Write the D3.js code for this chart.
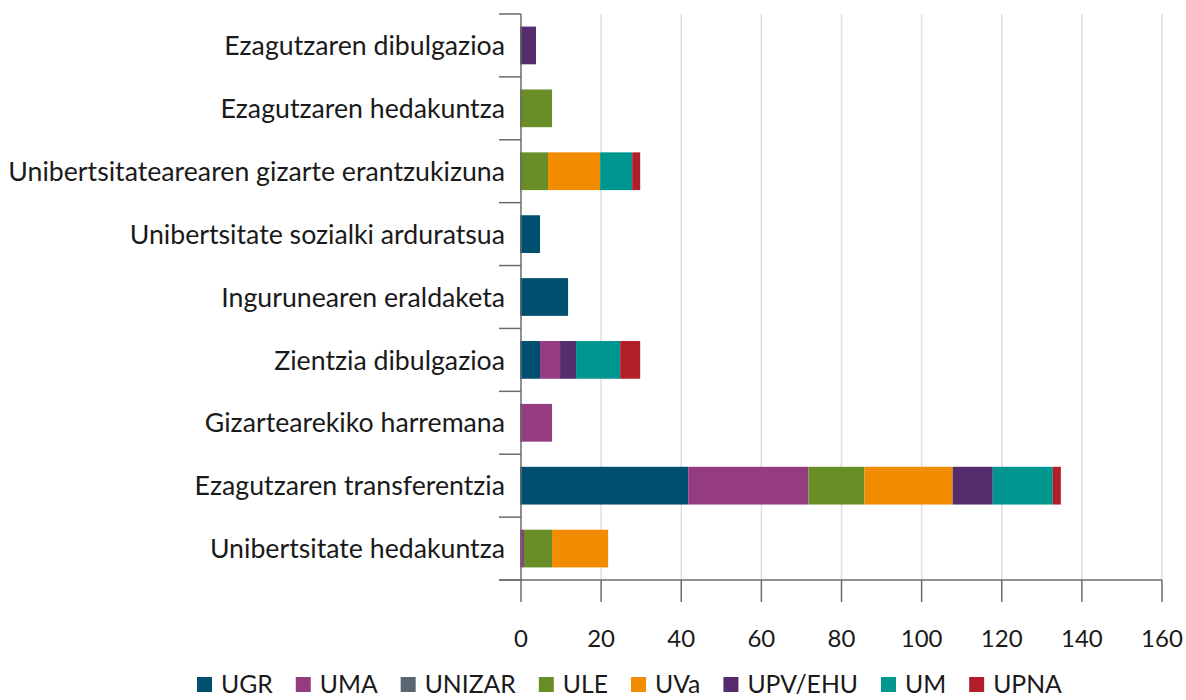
<!DOCTYPE html>
<html>
<head>
<meta charset="utf-8">
<script src="https://cdn.jsdelivr.net/npm/d3@7"></script>
<style>
  body { margin: 0; background: #fff; }
  text { font-family: Lato, "Open Sans", sans-serif; fill: #1a1a1a; }
</style>
</head>
<body>
<svg id="chart" width="1186" height="700"></svg>
<script>
const categories = [
  "Ezagutzaren dibulgazioa",
  "Ezagutzaren hedakuntza",
  "Unibertsitatearearen gizarte erantzukizuna",
  "Unibertsitate sozialki arduratsua",
  "Ingurunearen eraldaketa",
  "Zientzia dibulgazioa",
  "Gizartearekiko harremana",
  "Ezagutzaren transferentzia",
  "Unibertsitate hedakuntza"
];
const seriesNames = ["UGR", "UMA", "UNIZAR", "ULE", "UVa", "UPV/EHU", "UM", "UPNA"];
const seriesColors = ["#004f6e", "#943c7f", "#5a6670", "#6a8e27", "#f28c00", "#552c6e", "#009690", "#b21f2a"];
const UGR     = [0, 0, 0, 5, 12, 5, 0, 42, 0];
const UMA     = [0, 0, 0, 0, 0, 5, 8, 30, 1];
const UNIZAR  = [0, 0, 0, 0, 0, 0, 0, 0, 0];
const ULE     = [0, 8, 7, 0, 0, 0, 0, 14, 7];
const UVa     = [0, 0, 13, 0, 0, 0, 0, 22, 14];
const UPV_EHU = [4, 0, 0, 0, 0, 4, 0, 10, 0];
const UM      = [0, 0, 8, 0, 0, 11, 0, 15, 0];
const UPNA    = [0, 0, 2, 0, 0, 5, 0, 2, 0];
const xTicks = [0, 20, 40, 60, 80, 100, 120, 140, 160];

const seriesValues = [UGR, UMA, UNIZAR, ULE, UVa, UPV_EHU, UM, UPNA];
const table = categories.map((c, i) => {
  const row = { category: c };
  seriesNames.forEach((s, j) => row[s] = seriesValues[j][i]);
  return row;
});
const stacked = d3.stack().keys(seriesNames)(table);

const svg = d3.select("#chart");
const x = d3.scaleLinear().domain([0, 160]).range([521, 1162]);
const y = d3.scaleBand().domain(categories).range([14, 580]).paddingInner(0.4).paddingOuter(0.2);
const step = y.step();
const color = d3.scaleOrdinal().domain(seriesNames).range(seriesColors);

// gridlines
svg.append("g").selectAll("line").data(xTicks.slice(1)).join("line")
  .attr("x1", d => x(d)).attr("x2", d => x(d))
  .attr("y1", 14).attr("y2", 580)
  .attr("stroke", "#dedede").attr("stroke-width", 1.5);

// bars
svg.append("g").selectAll("g").data(stacked).join("g")
  .attr("fill", d => color(d.key))
  .selectAll("rect").data(d => d).join("rect")
  .attr("x", d => x(d[0]) - 1)
  .attr("width", d => Math.max(0, x(d[1]) - x(d[0])))
  .attr("y", d => y(d.data.category))
  .attr("height", y.bandwidth());

const axisColor = "#6b6b6b";
// y axis line and boundary ticks
const yAxisG = svg.append("g");
yAxisG.append("line").attr("x1", x(0)).attr("x2", x(0)).attr("y1", 14).attr("y2", 580)
  .attr("stroke", axisColor).attr("stroke-width", 1.5);
const boundaries = categories.map(c => y(c) - y.paddingInner() * step / 2).concat([580]);
yAxisG.selectAll("line.tick").data(boundaries).join("line").attr("class", "tick")
  .attr("x1", x(0) - 22).attr("x2", x(0)).attr("y1", d => d).attr("y2", d => d)
  .attr("stroke", axisColor).attr("stroke-width", 1.5);
const catLabels = yAxisG.selectAll("text").data(categories).join("text")
  .attr("x", 505).attr("y", d => y(d) + y.bandwidth() / 2)
  .attr("dy", "0.36em").attr("text-anchor", "end")
  .attr("font-size", 24).text(d => d);
// fit label font size so the longest label spans like the reference
const maxW = d3.max(catLabels.nodes(), n => n.getComputedTextLength());
catLabels.attr("font-size", 24 * 497 / maxW);

// x axis
const xAxisG = svg.append("g");
xAxisG.append("line").attr("x1", x(0) - 22).attr("x2", x(160)).attr("y1", 580).attr("y2", 580)
  .attr("stroke", axisColor).attr("stroke-width", 1.5);
xAxisG.selectAll("line.tick").data(xTicks).join("line").attr("class", "tick")
  .attr("x1", d => x(d)).attr("x2", d => x(d)).attr("y1", 580).attr("y2", 602)
  .attr("stroke", axisColor).attr("stroke-width", 1.5);
xAxisG.selectAll("text").data(xTicks).join("text")
  .attr("x", d => x(d)).attr("y", 638).attr("dy", "0.36em")
  .attr("text-anchor", "middle").attr("font-size", 24).text(d => d);

// legend
const legend = svg.append("g");
const items = legend.selectAll("g").data(seriesNames).join("g");
items.append("rect").attr("width", 15).attr("height", 15).attr("y", 677)
  .attr("fill", (d, i) => seriesColors[i]);
const legTexts = items.append("text").attr("y", 684.5).attr("dy", "0.36em")
  .attr("font-size", 25).text(d => d);
const sumW = d3.sum(legTexts.nodes(), n => n.getComputedTextLength());
const legFont = 25 * 512 / sumW;
legTexts.attr("font-size", legFont);
let lx = 197;
items.each(function () {
  const g = d3.select(this);
  g.select("rect").attr("x", lx);
  const t = g.select("text").attr("x", lx + 24);
  lx += 24 + t.node().getComputedTextLength() + 23;
});
</script>
</body>
</html>
